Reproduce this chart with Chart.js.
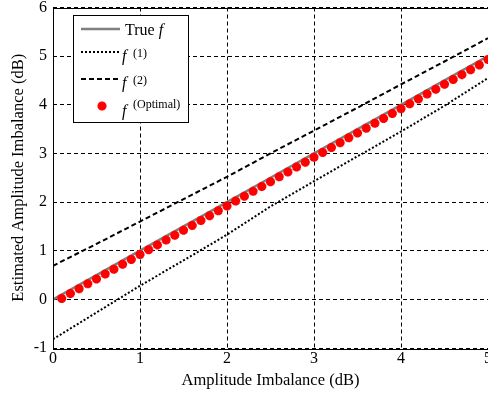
<!DOCTYPE html>
<html>
<head>
<meta charset="utf-8">
<script src="https://cdn.jsdelivr.net/npm/chart.js@4"></script>
<style>
  html, body { margin: 0; padding: 0; overflow: hidden; background: #fff; }
  canvas { display: block; }
</style>
</head>
<body>
<canvas id="c" width="500" height="400"></canvas>
<script>
// Sample grid for the three reference curves
const lineX = [0, 0.5, 1, 1.5, 2, 2.5, 3, 3.5, 4, 4.5, 5];
const trueF = [0, 0.5, 1, 1.5, 2, 2.5, 3, 3.5, 4, 4.5, 5];
const f1 = [-0.82, -0.27, 0.28, 0.80, 1.33, 1.91, 2.43, 2.94, 3.45, 3.98, 4.55];
const f2 = [0.69, 1.14, 1.60, 2.06, 2.52, 3.00, 3.47, 3.94, 4.42, 4.89, 5.37];

// Optimal estimator, evaluated every 0.1 dB
const optX = [0.1, 0.2, 0.3, 0.4, 0.5, 0.6, 0.7, 0.8, 0.9, 1.0,
              1.1, 1.2, 1.3, 1.4, 1.5, 1.6, 1.7, 1.8, 1.9, 2.0,
              2.1, 2.2, 2.3, 2.4, 2.5, 2.6, 2.7, 2.8, 2.9, 3.0,
              3.1, 3.2, 3.3, 3.4, 3.5, 3.6, 3.7, 3.8, 3.9, 4.0,
              4.1, 4.2, 4.3, 4.4, 4.5, 4.6, 4.7, 4.8, 4.9, 5.0];
const optY = [0.02, 0.12, 0.22, 0.32, 0.42, 0.52, 0.62, 0.72, 0.82, 0.92,
              1.02, 1.12, 1.22, 1.32, 1.42, 1.52, 1.62, 1.72, 1.82, 1.92,
              2.02, 2.12, 2.22, 2.32, 2.42, 2.52, 2.62, 2.72, 2.82, 2.92,
              3.02, 3.12, 3.22, 3.32, 3.42, 3.52, 3.62, 3.72, 3.82, 3.92,
              4.02, 4.12, 4.22, 4.32, 4.42, 4.52, 4.62, 4.72, 4.82, 4.93];

const xTicks = [0, 1, 2, 3, 4, 5];
const yTicks = [-1, 0, 1, 2, 3, 4, 5, 6];
const xTitle = 'Amplitude Imbalance (dB)';
const yTitle = 'Estimated Amplitude Imbalance (dB)';

const SERIF = "'Liberation Serif', 'Times New Roman', serif";
const pts = (xs, ys) => xs.map((x, i) => ({ x: x, y: ys[i] }));

// Box around the plotting area
const frame = {
  id: 'frame',
  afterDatasetsDraw(chart) {
    const { ctx, chartArea: a } = chart;
    ctx.save();
    ctx.strokeStyle = '#000';
    ctx.lineWidth = 1;
    ctx.setLineDash([]);
    ctx.strokeRect(Math.round(a.left) + 0.5, Math.round(a.top) + 0.5,
                   Math.round(a.right - a.left), Math.round(a.bottom - a.top));
    ctx.restore();
  }
};

// Draws the MATLAB-style '*' marker: plus and diagonal cross
function starMarker(ctx, cx, cy, r, color, width) {
  ctx.save();
  ctx.strokeStyle = color;
  ctx.lineWidth = width;
  ctx.setLineDash([]);
  ctx.beginPath();
  ctx.moveTo(cx - r, cy); ctx.lineTo(cx + r, cy);
  ctx.moveTo(cx, cy - r); ctx.lineTo(cx, cy + r);
  const q = r * Math.SQRT1_2;
  ctx.moveTo(cx - q, cy - q); ctx.lineTo(cx + q, cy + q);
  ctx.moveTo(cx - q, cy + q); ctx.lineTo(cx + q, cy - q);
  ctx.stroke();
  ctx.restore();
}

// Legend with italic f and superscripted labels
const texLegend = {
  id: 'texLegend',
  afterDraw(chart) {
    const ctx = chart.ctx;
    ctx.save();
    ctx.fillStyle = '#fff';
    ctx.fillRect(73.5, 15.5, 115, 107);
    ctx.strokeStyle = '#000';
    ctx.lineWidth = 1;
    ctx.setLineDash([]);
    ctx.strokeRect(73.5, 15.5, 115, 107);

    const ds = chart.data.datasets;
    const sample = (d, y) => {
      ctx.save();
      ctx.strokeStyle = d.borderColor;
      ctx.lineWidth = d.borderWidth;
      ctx.setLineDash(d.borderDash || []);
      ctx.beginPath();
      ctx.moveTo(81, y);
      ctx.lineTo(120, y);
      ctx.stroke();
      ctx.restore();
    };
    const rows = [29, 52, 79, 106];
    sample(ds[0], rows[0]);
    sample(ds[1], rows[1]);
    sample(ds[2], rows[2]);
    starMarker(ctx, 102, rows[3], ds[3].pointRadius, ds[3].borderColor, ds[3].borderWidth);

    ctx.fillStyle = '#000';
    ctx.textBaseline = 'alphabetic';
    ctx.textAlign = 'left';
    ctx.font = '16px ' + SERIF;
    ctx.fillText('True', 125, 34.5);
    const w = ctx.measureText('True ').width;
    ctx.font = 'italic 16px ' + SERIF;
    ctx.fillText('f', 125 + w, 34.5);

    const sup = [['(1)', 61, 56.5], ['(2)', 87.5, 83.5], ['(Optimal)', 115.5, 107.5]];
    sup.forEach(([s, base, sb]) => {
      ctx.font = 'italic 16px ' + SERIF;
      ctx.fillText('f', 122, base);
      ctx.font = '12px ' + SERIF;
      ctx.fillText(s, 133, sb);
    });
    ctx.restore();
  }
};

new Chart(document.getElementById('c'), {
  type: 'scatter',
  data: {
    datasets: [
      { label: 'True f', data: pts(lineX, trueF), showLine: true, borderColor: '#808080',
        borderWidth: 2.5, pointRadius: 0, order: 3 },
      { label: 'f(1)', data: pts(lineX, f1), showLine: true, borderColor: '#000',
        borderWidth: 2, borderDash: [2, 2], pointRadius: 0, order: 2 },
      { label: 'f(2)', data: pts(lineX, f2), showLine: true, borderColor: '#000',
        borderWidth: 2, borderDash: [5, 3], pointRadius: 0, order: 1 },
      { label: 'f(Optimal)', data: pts(optX, optY), showLine: false, borderColor: '#ff0000',
        backgroundColor: '#ff0000', pointStyle: 'star', pointRadius: 4.5, borderWidth: 3,
        pointBorderWidth: 3, order: 0 }
    ]
  },
  options: {
    responsive: false,
    animation: false,
    events: [],
    layout: { padding: { top: 5, right: 12, left: 0, bottom: 0 } },
    plugins: { legend: { display: false }, tooltip: { enabled: false } },
    scales: {
      x: {
        type: 'linear', min: 0, max: 5,
        afterBuildTicks: s => { s.ticks = xTicks.map(v => ({ value: v })); },
        afterFit: s => { s.height = 52; s.paddingLeft = 0; s.paddingRight = 0; },
        grid: { color: '#000', lineWidth: 1, drawTicks: false },
        border: { display: false, dash: [4, 3] },
        ticks: { color: '#000', font: { family: SERIF, size: 16 }, padding: 1, maxRotation: 0 },
        title: { display: true, text: xTitle, color: '#000',
                 font: { family: SERIF, size: 16.5 }, padding: { top: 0, bottom: 9 } }
      },
      y: {
        type: 'linear', min: -1, max: 6,
        afterBuildTicks: s => { s.ticks = yTicks.map(v => ({ value: v })); },
        afterFit: s => { s.width = 53; s.paddingTop = 0; s.paddingBottom = 0; },
        grid: { color: '#000', lineWidth: 1, drawTicks: false },
        border: { display: false, dash: [4, 3] },
        ticks: { color: '#000', font: { family: SERIF, size: 16 }, padding: 6 },
        title: { display: true, text: yTitle, color: '#000',
                 font: { family: SERIF, size: 16.5 }, padding: { top: 9, bottom: 0 } }
      }
    }
  },
  plugins: [frame, texLegend]
});
</script>
</body>
</html>
